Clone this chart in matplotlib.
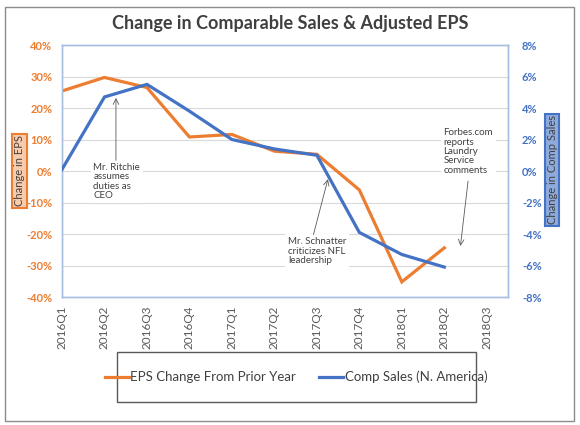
import matplotlib
matplotlib.use("Agg")
import matplotlib.pyplot as plt
from matplotlib.patches import Rectangle
from matplotlib.ticker import FuncFormatter, MultipleLocator

plt.rcParams['font.family'] = ['Lato', 'DejaVu Sans']

quarters = ["2016Q1", "2016Q2", "2016Q3", "2016Q4", "2017Q1", "2017Q2",
            "2017Q3", "2017Q4", "2018Q1", "2018Q2", "2018Q3"]
eps_change = [25.4, 29.7, 26.5, 10.8, 11.6, 6.3, 5.3, -6.0, -35.2, -24.4]
comp_sales = [0.1, 4.7, 5.5, 3.8, 2.0, 1.4, 1.0, -3.9, -5.3, -6.1]

ORANGE = "#ED7D31"
BLUE = "#4472C4"
GRID = "#D9D9D9"
SPINE = "#A9BEE3"
TXT = "#404040"

fig = plt.figure(figsize=(5.8, 4.25), dpi=100)
ax = fig.add_axes([62/580, 1-297/425, (508-62)/580, (297-45)/425])
ax2 = ax.twinx()

x = list(range(len(eps_change)))
ax.plot(x, eps_change, color=ORANGE, lw=2.3, solid_joinstyle='miter', label="EPS Change From Prior Year", zorder=3)
ax2.plot(x, comp_sales, color=BLUE, lw=2.3, solid_joinstyle='miter', label="Comp Sales (N. America)", zorder=3)

ax.set_xlim(0, 10.5)
ax.set_ylim(-40, 40)
ax2.set_ylim(-8, 8)
ax.yaxis.set_major_locator(MultipleLocator(10))
ax2.yaxis.set_major_locator(MultipleLocator(2))
ax.yaxis.set_major_formatter(FuncFormatter(lambda v, p: f"{v:.0f}%"))
ax2.yaxis.set_major_formatter(FuncFormatter(lambda v, p: f"{v:.0f}%"))
ax.set_xticks(range(len(quarters)))
ax.set_xticklabels(quarters, rotation=90, fontsize=8.5, color="#595959")
ax.grid(axis='y', color=GRID, lw=0.8, zorder=0)
ax.set_axisbelow(True)

for a in (ax, ax2):
    for s in a.spines.values():
        s.set_color(SPINE)
        s.set_linewidth(1.0)
    a.tick_params(length=0)
ax.tick_params(axis='y', labelsize=8, labelcolor=ORANGE, pad=7)
ax2.tick_params(axis='y', labelsize=8, labelcolor=BLUE, pad=10)
ax.tick_params(axis='x', pad=6)
for t in ax.get_yticklabels():
    t.set_fontweight('bold')
for t in ax2.get_yticklabels():
    t.set_fontweight('bold')

ann_kw = dict(fontsize=7, color=TXT, ha='left', va='top', linespacing=1.05,
              bbox=dict(boxstyle='square,pad=0.3', fc='white', ec='none'),
              zorder=5)
arrow_kw = dict(arrowstyle='->', color='#595959', lw=0.6, shrinkA=0, shrinkB=0)

ax.text(0.74, 2.6, "Mr. Ritchie\nassumes\nduties as\nCEO", **ann_kw)
ax.annotate("", xy=(1.27, 23.2), xytext=(1.27, 3.4), arrowprops=arrow_kw, zorder=6)

ax.text(5.32, -21.0, "Mr. Schnatter\ncriticizes NFL\nleadership", **ann_kw)
ax.annotate("", xy=(6.26, -2.6), xytext=(5.92, -20.2), arrowprops=arrow_kw, zorder=6)

ax.text(8.98, 13.6, "Forbes.com\nreports\nLaundry\nService\ncomments", **ann_kw)
ax.annotate("", xy=(9.38, -23.8), xytext=(9.56, -3.2), arrowprops=arrow_kw, zorder=6)

fig.text(0.5, 1-24/425, "Change in Comparable Sales & Adjusted EPS", ha='center', va='center',
         fontsize=13, fontweight='bold', color=TXT)

fig.text(19.5/580, 1-171/425, "Change in EPS", rotation=90, ha='center', va='center',
         fontsize=8, color=TXT,
         bbox=dict(boxstyle='square,pad=0.15', fc="#F8CBAD", ec=ORANGE, lw=1.5))
fig.text(552/580, 1-170/425, "Change in Comp Sales", rotation=90, ha='center', va='center',
         fontsize=8, color=TXT,
         bbox=dict(boxstyle='square,pad=0.15', fc="#8FAADC", ec=BLUE, lw=1.5))

h1, l1 = ax.get_legend_handles_labels()
h2, l2 = ax2.get_legend_handles_labels()
fig.legend(h1 + h2, l1 + l2, loc='center', bbox_to_anchor=(296/580, 1-377/425),
           ncol=2, frameon=False, fontsize=9.5, handlelength=1.8, handletextpad=0.1,
           columnspacing=1.8, labelcolor=TXT)
fig.patches.append(Rectangle((117/580, 1-402/425), (476-117)/580, 50/425,
                             transform=fig.transFigure, fill=False, ec="#595959", lw=1.0))
fig.patches.append(Rectangle((5/580, 1-421/425), (574-5)/580, (421-7)/425,
                             transform=fig.transFigure, fill=False, ec="#8C8C8C", lw=1.0))

fig.savefig("out.png", dpi=100)
